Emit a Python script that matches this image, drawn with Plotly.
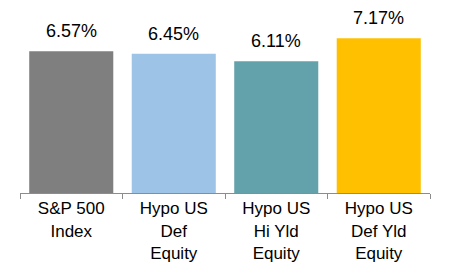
import plotly.graph_objects as go

categories = ["S&P 500<br>Index", "Hypo US<br>Def<br>Equity", "Hypo US<br>Hi Yld<br>Equity", "Hypo US<br>Def Yld<br>Equity"]
values = [6.57, 6.45, 6.11, 7.17]
labels = ["6.57%", "6.45%", "6.11%", "7.17%"]
colors = ["#7F7F7F", "#9DC3E6", "#63A2AA", "#FFC000"]

fig = go.Figure()
fig.add_trace(go.Bar(x=categories, y=values, marker=dict(color=colors, line=dict(width=0)),
                     hoverinfo="skip"))

for c, v, t in zip(categories, values, labels):
    fig.add_annotation(x=c, y=v, text=t, showarrow=False, yanchor="bottom", yshift=8,
                       font=dict(family="Liberation Sans, Arial", size=18, color="#000000"))

fig.update_layout(
    width=451, height=274,
    margin=dict(l=20, r=21, t=20, b=81),
    paper_bgcolor="white", plot_bgcolor="white",
    bargap=0.18,
    showlegend=False,
    font=dict(family="Liberation Sans, Arial", size=17, color="#000000"),
)
fig.update_xaxes(showline=True, linecolor="#8C8C8C", linewidth=1, ticks="outside", tickson="boundaries",
                 ticklen=5, tickcolor="#8C8C8C", showgrid=False,
                 tickfont=dict(family="Liberation Sans, Arial", size=17, color="#000000"))
fig.update_yaxes(range=[0, 8.02], visible=False, showgrid=False, zeroline=False)

fig.write_html("out.html")
